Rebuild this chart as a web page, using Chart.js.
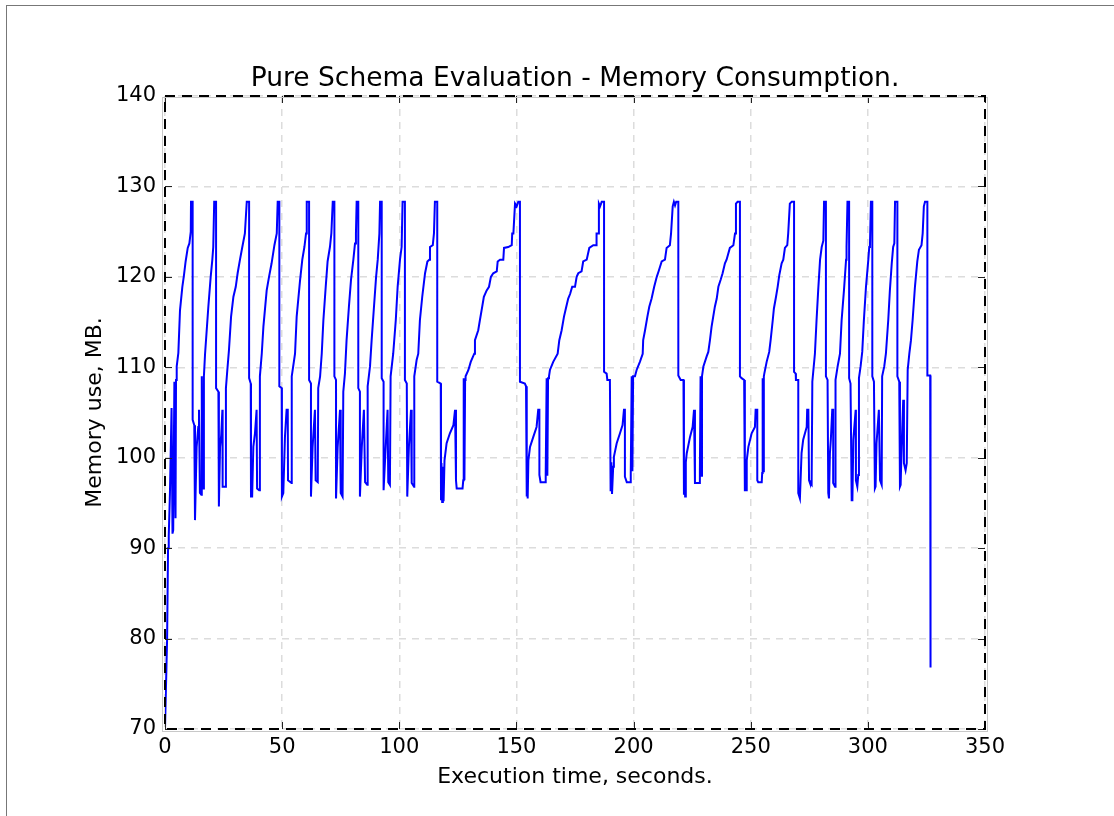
<!DOCTYPE html>
<html>
<head>
<meta charset="utf-8">
<script src="https://cdn.jsdelivr.net/npm/chart.js@4.4.1/dist/chart.umd.min.js"></script>
<style>
  html, body { margin: 0; padding: 0; background: #fff; }
  #frame {
    position: absolute; left: 6px; top: 5px; right: 0; bottom: 0;
    border-top: 1px solid #777; border-left: 1px solid #777;
  }
  #memChart { position: absolute; left: 0; top: 0; }
</style>
</head>
<body>
<div id="frame"></div>
<canvas id="memChart" width="1114" height="816"></canvas>
<script>
// axis ranges and ticks ------------------------------------------------------
const xTicks = [0, 50, 100, 150, 200, 250, 300, 350];
const yTicks = [70, 80, 90, 100, 110, 120, 130, 140];

// memory trace, [seconds, MB], one line per GC cycle
const memoryTrace = [
  [0,70],[0.9,80],[1.3,90],[1.6,91.4],[2.1,96.0],[2.8,105.5],[3.2,91.6],[3.5,92.0],[4.0,108.4],[4.5,93.3],[4.7,108.6],[5.0,110.1],[5.7,111.6],[6.4,116.3],[7.4,118.9],[8.1,120.2],[8.8,121.7],[9.7,123.2],[10.4,123.7],[11.0,125.0],[11.1,128.3],[11.8,128.3],
  [11.8,104.2],[12.5,103.6],[12.8,93.1],[13.5,101.2],[14.2,103.4],[14.5,105.3],[14.9,96.1],[15.5,95.9],[15.7,109.0],[16.0,97.0],[16.4,96.6],[16.6,109.0],[17.1,111.5],[18.5,116.7],[19.5,120.0],[20.2,121.9],[20.6,123.3],[21.0,128.3],[21.8,128.3],
  [21.8,107.7],[22.8,107.3],[23.0,94.6],[23.5,101.2],[24.0,102.5],[24.5,105.3],[24.6,96.8],[26.0,96.8],[26.0,107.7],[26.6,109.7],[27.3,111.9],[28.2,115.6],[29.2,117.8],[30.2,118.9],[31.0,120.4],[32.0,121.9],[33.0,123.3],[34.1,124.8],[34.9,128.3],[35.9,128.3],
  [35.9,108.8],[36.6,108.2],[36.7,95.7],[37.2,95.7],[37.7,101.2],[38.4,102.7],[39.1,105.3],[39.3,96.6],[40.2,96.4],[40.5,109.0],[41.3,111.5],[42.0,114.5],[43.4,118.5],[44.4,120.0],[45.5,121.5],[46.7,123.5],[47.7,124.8],[48.1,128.3],[48.8,128.3],
  [48.8,107.9],[49.8,107.7],[49.9,95.7],[50.5,96.1],[51.2,102.3],[51.9,105.3],[52.4,105.3],[52.5,97.5],[54.0,97.2],[54.1,109.0],[55.5,111.5],[56.2,115.6],[57.6,119.5],[58.6,121.9],[59.5,123.3],[60.2,124.8],[60.5,128.3],[61.5,128.3],
  [61.5,108.6],[62.3,108.2],[62.3,95.7],[63.0,101.2],[64.0,105.3],[64.3,97.5],[65.2,97.3],[65.4,107.7],[66.2,109.0],[66.9,111.5],[67.6,115.2],[68.6,118.9],[69.4,121.7],[70.4,123.3],[71.0,124.8],[71.6,128.3],[72.3,128.3],
  [72.3,109.0],[73.0,108.6],[73.0,95.5],[73.7,101.2],[74.7,105.3],[75.0,96.1],[75.8,95.7],[76.1,107.3],[76.8,109.3],[77.5,113.0],[78.5,116.7],[79.4,119.7],[80.4,121.9],[81.1,123.7],[81.5,124.8],[81.8,128.3],[82.5,128.3],
  [82.5,107.7],[83.2,107.3],[83.2,95.7],[84.0,101.2],[84.9,105.3],[85.4,97.3],[86.3,97.0],[86.5,107.9],[87.5,110.1],[88.2,113.0],[89.2,116.7],[90.1,120.0],[90.8,121.9],[91.5,124.8],[91.8,128.3],[92.5,128.3],
  [92.5,108.8],[93.3,108.4],[93.3,96.4],[94.2,101.2],[95.0,105.3],[95.3,97.3],[96.0,97.0],[96.3,109.0],[97.4,111.5],[98.5,115.2],[99.3,118.9],[100.3,121.9],[101.0,123.3],[101.4,128.3],[102.4,128.3],
  [102.4,108.6],[103.2,108.2],[103.4,95.7],[104.1,101.2],[105.0,105.3],[105.3,97.2],[106.3,96.8],[106.4,109.0],[107.4,110.8],[108.1,111.5],[108.8,115.2],[109.8,117.8],[111.0,120.4],[112.0,121.7],[112.8,121.9],[113.1,123.3],[114.3,123.5],[114.8,124.8],[115.2,128.3],[116.2,128.3],
  [116.2,108.4],[117.7,108.2],[117.8,95.3],[118.0,99.4],[118.3,95.1],[118.6,99.0],[118.9,95.2],[119.3,99.7],[120.2,101.6],[121.6,102.7],[123.1,103.6],[123.8,105.3],[124.2,105.3],[124.2,97.5],[124.5,96.6],[127.0,96.6],[127.3,97.5],[127.5,108.8],[127.8,97.5],[128.1,108.6],[128.3,109.0],[129.5,109.7],[130.5,110.6],[132.0,111.5],[132.3,113.0],[133.7,114.1],[134.4,115.2],[135.4,116.7],[136.1,117.8],[137.3,118.5],[138.3,118.9],[139.1,120.0],[140.1,120.4],[141.6,120.6],[142.0,121.7],[143.0,121.9],[144.4,121.9],[144.7,123.2],[146.5,123.3],[148.0,123.5],[148.2,124.8],[148.7,124.8],[149.4,128.1],[150.1,127.8],[150.8,128.3],[151.5,128.3],
  [151.5,108.4],[153.6,108.2],[154.1,107.9],[154.4,95.7],[154.6,99.5],[154.8,95.5],[155.1,99.7],[155.8,101.2],[157.2,102.3],[158.6,103.4],[159.3,105.3],[159.8,105.3],[159.8,98.1],[160.3,97.3],[162.2,97.3],[162.5,98.3],[162.9,108.8],[163.2,98.0],[163.5,108.8],[163.9,109.0],[164.3,109.7],[165.7,110.6],[167.6,111.5],[168.3,113.0],[169.3,114.1],[170.3,115.6],[171.1,116.5],[172.1,117.6],[172.9,118.1],[173.8,118.9],[175.0,118.9],[175.7,120.0],[176.4,120.4],[177.8,120.6],[178.5,121.7],[180.0,121.9],[181.1,123.2],[182.8,123.5],[184.0,123.5],[184.2,124.8],[184.9,124.8],[185.2,128.1],[185.7,127.8],[186.4,128.3],[187.4,128.3],
  [187.4,109.5],[188.5,109.3],[188.8,108.6],[189.9,108.6],[190.2,96.3],[190.5,99.5],[190.8,96.0],[191.3,99.0],[191.6,100.1],[192.8,101.6],[194.2,102.7],[195.3,103.6],[195.9,105.3],[196.3,105.3],[196.3,97.9],[197.1,97.3],[198.5,97.3],[198.8,98.3],[199.2,109.0],[199.5,98.5],[199.8,109.0],[200.6,109.0],[201.3,109.7],[202.7,110.6],[203.9,111.5],[204.1,113.0],[204.9,114.1],[205.9,115.6],[206.7,116.7],[207.7,117.6],[208.8,118.9],[209.9,120.0],[210.8,120.7],[212.0,121.7],[213.4,121.9],[214.1,123.2],[215.5,123.5],[216.0,124.8],[216.7,127.8],[217.2,128.3],[217.7,127.9],[218.2,128.3],[219.1,128.3],
  [219.1,109.1],[220.1,108.6],[221.3,108.6],[221.5,95.9],[221.8,99.0],[222.0,95.7],[222.3,99.5],[222.7,100.5],[224.1,102.3],[225.2,103.4],[225.8,105.3],[226.2,105.3],[226.2,97.2],[228.0,97.2],[228.3,98.5],[228.6,109.0],[228.9,98.0],[229.2,109.0],[229.8,110.1],[231.2,111.2],[231.9,111.7],[232.6,113.0],[233.3,114.5],[234.0,115.6],[234.7,116.7],[235.5,117.6],[236.2,118.9],[237.2,119.7],[238.0,120.4],[239.0,121.5],[239.7,121.9],[241.1,123.2],[242.6,123.5],[243.3,124.8],[243.7,128.1],[244.4,128.3],[245.4,128.3],
  [245.4,109.0],[246.1,108.8],[247.2,108.6],[247.5,96.4],[248.3,96.4],[248.3,99.7],[249.0,101.2],[250.4,102.7],[251.8,103.4],[252.1,105.3],[252.8,105.3],[252.8,97.5],[253.2,97.3],[254.7,97.3],[254.9,98.3],[255.1,108.8],[255.4,98.5],[255.6,109.0],[255.8,109.3],[256.8,110.6],[257.9,111.7],[258.5,113.0],[259.4,115.2],[259.9,116.5],[260.8,117.8],[261.5,118.9],[262.2,120.2],[263.2,121.5],[263.9,121.9],[264.6,123.2],[265.6,123.5],[266.0,124.8],[266.7,128.1],[267.5,128.3],[268.5,128.3],
  [268.5,109.5],[269.2,109.3],[269.3,108.6],[270.3,108.6],[270.3,96.1],[271.0,95.5],[271.7,100.5],[272.4,102.0],[273.9,103.4],[274.1,105.3],[274.6,105.3],[274.9,97.5],[275.3,97.2],[276.0,97.0],[276.3,108.4],[277.4,111.5],[278.1,115.2],[278.8,118.5],[279.6,121.9],[280.3,123.3],[281.0,124.0],[281.3,128.3],[282.1,128.3],
  [282.1,109.0],[282.8,108.6],[283.1,96.1],[283.4,95.5],[283.8,100.5],[284.2,102.0],[284.8,105.3],[285.2,105.3],[285.2,97.2],[286.0,96.8],[286.2,108.6],[287.1,110.1],[288.1,111.5],[288.8,115.2],[289.8,118.5],[290.7,121.9],[290.9,123.3],[291.3,128.3],[292.0,128.3],
  [292.0,108.8],[292.6,108.2],[293.1,95.3],[293.4,95.3],[293.8,102.0],[294.8,105.3],[294.9,97.5],[295.5,96.8],[295.9,98.1],[296.2,108.8],[296.9,110.1],[297.6,111.7],[298.3,115.2],[299.2,118.9],[300.2,121.9],[300.6,123.3],[300.9,123.5],[301.3,128.3],[301.9,128.3],
  [301.9,109.0],[302.6,108.4],[303.0,96.6],[303.3,96.8],[303.7,101.6],[304.7,105.3],[305.2,97.5],[305.9,97.0],[306.1,109.0],[307.0,110.1],[307.7,111.5],[308.7,115.2],[309.4,118.5],[310.2,121.5],[310.8,123.3],[311.3,123.7],[311.6,128.3],[312.6,128.3],
  [312.6,109.0],[313.4,108.4],[313.7,96.8],[314.0,97.0],[314.4,101.2],[315.1,106.4],[315.4,99.4],[316.1,98.6],[316.6,99.4],[317.0,109.7],[317.7,111.5],[318.4,113.0],[319.1,115.2],[320.1,118.9],[321.1,121.7],[321.8,123.0],[322.9,123.5],[323.4,124.8],[323.9,127.8],[324.4,128.3],[325.4,128.3],
  [325.4,109.1],[326.6,109.1],[326.7,91.0],[326.8,76.8]
];

const font = (size) => ({ family: "'DejaVu Sans', sans-serif", size: size, weight: "normal" });

// little inward tick marks + the dashed axes frame, drawn on top of the line
const frameTicks = {
  id: "frameTicks",
  afterDraw(chart) {
    const { ctx, chartArea: a, scales } = chart;
    ctx.save();
    ctx.strokeStyle = "#222";
    ctx.lineWidth = 1;
    ctx.beginPath();
    xTicks.forEach((v) => {
      const x = Math.round(scales.x.getPixelForValue(v)) + 0.5;
      ctx.moveTo(x, a.bottom); ctx.lineTo(x, a.bottom - 7);
      ctx.moveTo(x, a.top); ctx.lineTo(x, a.top + 7);
    });
    yTicks.forEach((v) => {
      const y = Math.round(scales.y.getPixelForValue(v)) + 0.5;
      ctx.moveTo(a.left, y); ctx.lineTo(a.left + 7, y);
      ctx.moveTo(a.right, y); ctx.lineTo(a.right - 7, y);
    });
    ctx.stroke();
    // pale solid edge under the dashes
    ctx.strokeStyle = "#c8c8c8";
    ctx.lineWidth = 1;
    ctx.strokeRect(a.left - 2.5, a.top + 1.5, a.right - a.left + 5, a.bottom - a.top + 1);
    ctx.strokeStyle = "#000";
    ctx.lineWidth = 2;
    ctx.setLineDash([10, 7]);
    ctx.strokeRect(a.left, a.top, a.right - a.left, a.bottom - a.top);
    ctx.restore();
  },
};

const ctx = document.getElementById("memChart").getContext("2d");

new Chart(ctx, {
  type: "line",
  data: {
    datasets: [
      {
        data: memoryTrace.map(([t, mb]) => ({ x: t, y: mb })),
        borderColor: "#0000ff",
        borderWidth: 2,
        pointRadius: 0,
        tension: 0,
        fill: false,
      },
    ],
  },
  options: {
    responsive: false,
    animation: false,
    layout: { padding: { left: 82, right: 129, top: 0, bottom: 26 } },
    plugins: {
      legend: { display: false },
      tooltip: { enabled: false },
      title: {
        display: true,
        fullSize: false,
        text: "Pure Schema Evaluation - Memory Consumption.",
        color: "#000",
        font: font(26.5),
        padding: { top: 63, bottom: 1.2 },
      },
    },
    scales: {
      x: {
        type: "linear",
        min: 0,
        max: 350,
        afterBuildTicks(scale) { scale.ticks = xTicks.map((v) => ({ value: v })); },
        afterFit(scale) { scale.height = 61; },
        ticks: { color: "#000", font: font(21), padding: 6, maxRotation: 0 },
        grid: { color: "#dcdcdc", lineWidth: 1.5, drawTicks: false },
        border: { display: false, dash: [7, 6] },
        title: { display: true, text: "Execution time, seconds.", color: "#000", font: font(22), padding: 0 },
      },
      y: {
        min: 70,
        max: 140,
        afterBuildTicks(scale) { scale.ticks = yTicks.map((v) => ({ value: v })); },
        afterFit(scale) { scale.width = 83; },
        ticks: { color: "#000", font: font(21), padding: 9 },
        grid: { color: "#dcdcdc", lineWidth: 1.5, drawTicks: false },
        border: { display: false, dash: [7, 6] },
        title: { display: true, text: "Memory use, MB.", color: "#000", font: font(22), padding: 0 },
      },
    },
  },
  plugins: [frameTicks],
});
</script>
</body>
</html>
